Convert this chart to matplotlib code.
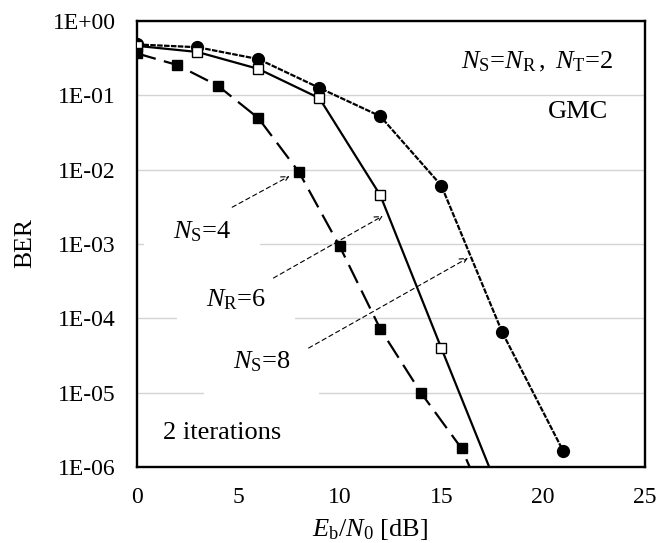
import matplotlib
matplotlib.use('Agg')
import matplotlib.pyplot as plt

plt.rcParams['font.family'] = ['Liberation Serif', 'DejaVu Serif']
plt.rcParams['mathtext.fontset'] = 'custom'
plt.rcParams['mathtext.rm'] = 'Liberation Serif'
plt.rcParams['mathtext.it'] = 'Liberation Serif:italic'
plt.rcParams['mathtext.bf'] = 'Liberation Serif:bold'

# Data
snr_circ = [0, 3, 6, 9, 12, 15, 18, 21]
ber_circ = [0.48, 0.44, 0.305, 0.125, 0.052, 0.0061, 6.5e-5, 1.65e-6]
snr_open = [0, 3, 6, 9, 12, 15, 18]
ber_open = [0.46, 0.38, 0.225, 0.091, 0.0045, 4.0e-5, 3.7e-7]
snr_fill = [0, 2, 4, 6, 8, 10, 12, 14, 16, 18]
ber_fill = [0.365, 0.254, 0.134, 0.049, 0.0092, 9.3e-4, 7.2e-5, 1.0e-5, 1.79e-6, 1.0e-7]

ytick_vals = [1, 1e-1, 1e-2, 1e-3, 1e-4, 1e-5, 1e-6]
ytick_labels = ['1E+00', '1E-01', '1E-02', '1E-03', '1E-04', '1E-05', '1E-06']
xtick_vals = [0, 5, 10, 15, 20, 25]

W, H = 672, 543
fig = plt.figure(figsize=(W / 100, H / 100), dpi=100)
ax = fig.add_axes([136.5 / W, 1 - 467.3 / H, (644.5 - 136.5) / W, (467.3 - 20.7) / H])

ax.set_yscale('log')
ax.set_xlim(0, 25)
ax.set_ylim(1e-6, 1)
ax.set_yticks(ytick_vals)
ax.set_yticklabels(ytick_labels)
ax.set_xticks(xtick_vals)
ax.minorticks_off()
ax.tick_params(axis='both', length=0, labelsize=17)
ax.tick_params(axis='y', pad=15)
ax.tick_params(axis='x', pad=14)
ax.set_axisbelow(True)
ax.yaxis.grid(True, color='#d4d4d4', linewidth=1.0)
for s in ax.spines.values():
    s.set_linewidth(1.7)
    s.set_color('black')

ax.plot(snr_circ, ber_circ, color='black', lw=1.6, linestyle=(0, (2.5, 0.6)),
        marker='o', markersize=8.5, markerfacecolor='black', zorder=3)
ax.plot(snr_open, ber_open, color='black', lw=1.6, linestyle='-',
        marker='s', markersize=7.4, markerfacecolor='white', markeredgecolor='black',
        markeredgewidth=1.0, zorder=3)
ax.plot(snr_fill, ber_fill, color='black', lw=1.6, linestyle=(0, (9, 3.8)),
        marker='s', markersize=7.6, markerfacecolor='black', zorder=3)

box = dict(facecolor='white', edgecolor='none', boxstyle='square,pad=1.1')
ax.text(3.21, 1.45e-3, r'$N_{\mathrm{S}}$=4', fontsize=19, ha='center', va='center',
        bbox=box, zorder=2)
ax.text(4.91, 1.77e-4, r'$N_{\mathrm{R}}$=6', fontsize=19, ha='center', va='center',
        bbox=box, zorder=2)
ax.text(6.15, 2.6e-5, r'$N_{\mathrm{S}}$=8', fontsize=19, ha='center', va='center',
        bbox=box, zorder=2)

arrow = dict(arrowstyle='->,head_length=0.5,head_width=0.25', linestyle=(0, (4, 3)),
             lw=0.8, color='black', shrinkA=0, shrinkB=0)
ax.annotate('', xy=(7.53, 8.18e-3), xytext=(4.71, 3.12e-3), arrowprops=arrow, zorder=4)
ax.annotate('', xy=(12.12, 2.38e-3), xytext=(6.74, 3.49e-4), arrowprops=arrow, zorder=4)
ax.annotate('', xy=(16.31, 6.49e-4), xytext=(8.47, 4.0e-5), arrowprops=arrow, zorder=4)

ax.text(1.31, 2.9e-6, '2 iterations', fontsize=19, ha='left', va='center', zorder=2)
ax.text(23.47, 0.279, r'$N_{\mathrm{S}}$=$N_{\mathrm{R}}$$\,$,$\;\;$$N_{\mathrm{T}}$=2',
        fontsize=19, ha='right', va='center', zorder=2)
ax.text(23.22, 0.0594, 'GMC', fontsize=19, ha='right', va='center', zorder=2)

fig.text(25 / W, 1 - 243 / H, 'BER', rotation=90, ha='center', va='center', fontsize=18.5)
fig.text(370 / W, 1 - 535.5 / H, r'$E_{\mathrm{b}}/N_{\mathrm{0}}$ [dB]', ha='center',
         va='baseline', fontsize=19)

fig.savefig('out.png', dpi=100)
